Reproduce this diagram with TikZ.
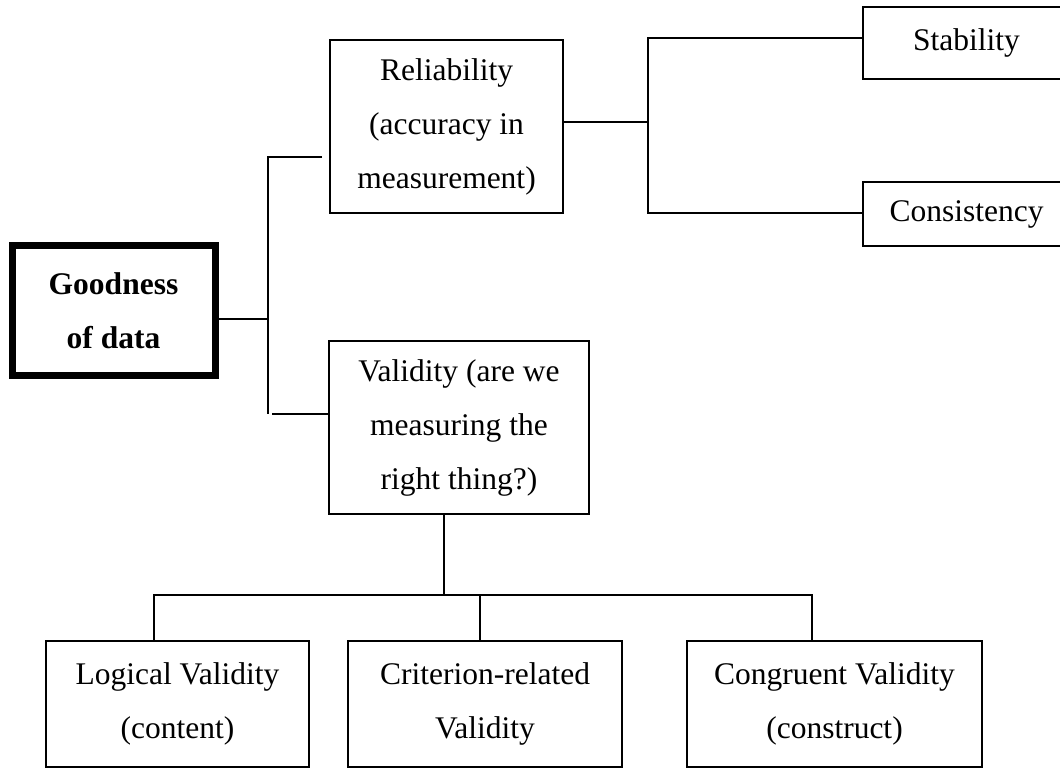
\documentclass[tikz,border=0pt]{standalone}
\usepackage{fontspec}
\setmainfont{Liberation Serif}
\begin{document}
\begin{tikzpicture}[x=1pt,y=-1pt,
  box/.style={draw, line width=1.6pt, inner sep=0pt, align=center,
              font=\fontsize{31.5}{54}\selectfont},
  conn/.style={line width=1.6pt}]
\useasboundingbox (0,0) rectangle (1060,769);
\clip (0,0) rectangle (1060,769);

% nodes
\node[box, line width=7pt, minimum width=203pt, minimum height=130pt,
      font=\fontsize{31.5}{54}\selectfont\bfseries] (good) at (113.5,310.5) {Goodness\\of data};
\node[box, minimum width=233pt, minimum height=173pt] (rel) at (446.5,126.5)
      {Reliability\\(accuracy in\\measurement)};
\node[box, minimum width=260pt, minimum height=173pt] (val) at (459,427.5)
      {Validity (are we\\measuring the\\right thing?)};
\node[box, minimum width=207pt, minimum height=72pt] (stab) at (966.5,43) {Stability};
\node[box, minimum width=207pt, minimum height=64pt] (cons) at (966.5,214) {Consistency};
\node[box, minimum width=263pt, minimum height=126pt] (log) at (177.5,704)
      {Logical Validity\\(content)};
\node[box, minimum width=274pt, minimum height=126pt] (crit) at (485,704)
      {Criterion-related\\Validity};
\node[box, minimum width=295pt, minimum height=126pt] (cong) at (834.5,704)
      {Congruent Validity\\(construct)};

% junction coordinates
\coordinate (j1) at (268,319);
\coordinate (jt) at (268,157);
\coordinate (jb) at (268,414);
\coordinate (relin) at (322,157);
\coordinate (valin) at (272,414);
\coordinate (j2) at (648,122);
\coordinate (j2t) at (648,38);
\coordinate (j2b) at (648,213);
\coordinate (vb) at (444,595);
\coordinate (d1) at (154,595);
\coordinate (d2) at (480,595);
\coordinate (d3) at (812,595);

% connectors
\draw[conn] (good.east |- j1) -- (j1);
\draw[conn] (relin) -- (jt) -- (jb);
\draw[conn] (valin) -- (val.west |- valin);
\draw[conn] (rel.east |- j2) -- (j2);
\draw[conn] (stab.west |- j2t) -- (j2t) -- (j2b) -- (cons.west |- j2b);
\draw[conn] (val.south -| vb) -- (vb);
\draw[conn] (log.north -| d1) -- (d1) -- (d3) -- (cong.north -| d3);
\draw[conn] (d2) -- (crit.north -| d2);
\end{tikzpicture}
\end{document}
